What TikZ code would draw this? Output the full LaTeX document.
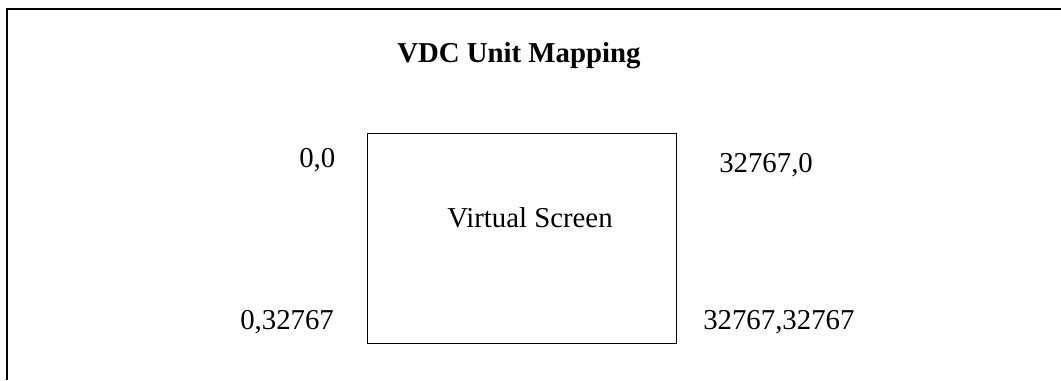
\documentclass[tikz,border=0pt]{standalone}
\usepackage{fontspec}
\setmainfont{Liberation Serif}

\begin{document}
\begin{tikzpicture}[x=0.75pt,y=0.75pt]
\tikzstyle{every node}+=[inner sep=0pt]
\tikzstyle{lbl}=[anchor=base west,font=\fontsize{21.6}{26}\selectfont]
\useasboundingbox (0,0) rectangle (1061,-380);
\draw [black,line width=1.5pt] (7,-380) -- (7,-9) -- (1061,-9);
\node (title) [lbl,font=\fontsize{21.6}{26}\selectfont\bfseries] at (397,-62) {VDC Unit Mapping};
\node (screen) [draw,black,line width=1pt,anchor=north west,minimum width=231.75pt,minimum height=157.5pt] at (367,-133) {};
\node (name) [lbl] at (447,-227) {Virtual Screen};
\node (tl) [lbl] at (299,-167) {0,0};
\node (tr) [lbl] at (719,-172) {32767,0};
\node (bl) [lbl] at (240,-329) {0,32767};
\node (br) [lbl] at (703,-329) {32767,32767};
\end{tikzpicture}
\end{document}
